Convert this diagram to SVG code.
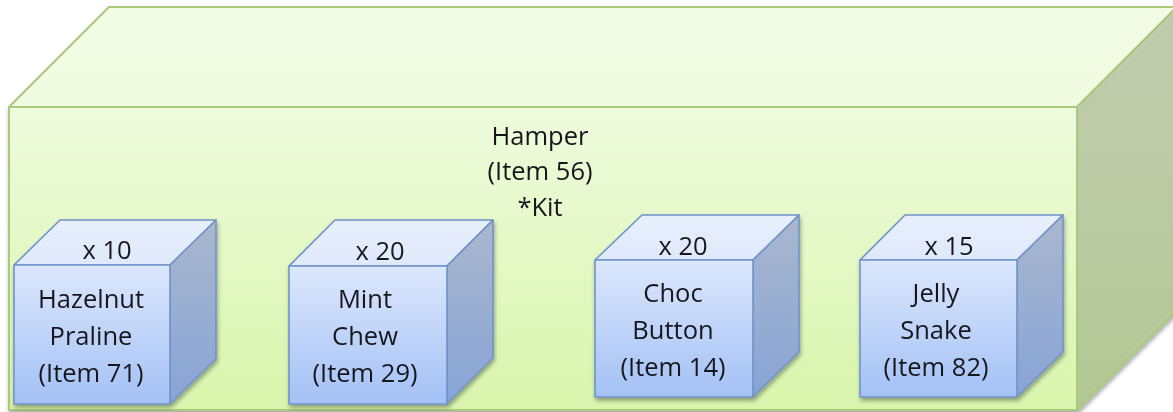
<svg xmlns="http://www.w3.org/2000/svg" width="1173" height="412" viewBox="0 0 1173 412">
<style>
text{font-family:"Open Sans","Liberation Sans",sans-serif;font-size:25.5px;fill:#18181f;text-anchor:middle}
.gs{stroke:#a9c97c;stroke-width:2;stroke-linejoin:round}
.bs{stroke:#6f94c8;stroke-width:1.6;stroke-linejoin:round}
</style>
<defs>
<linearGradient id="gFront" x1="0" y1="0" x2="0" y2="1"><stop offset="0" stop-color="#eefbdd"/><stop offset="1" stop-color="#d9f5ac"/></linearGradient>
<linearGradient id="gTop" x1="0" y1="0" x2="0" y2="1"><stop offset="0" stop-color="#f3fde6"/><stop offset="1" stop-color="#f0fbe0"/></linearGradient>
<linearGradient id="gSide" x1="0" y1="0" x2="0" y2="1"><stop offset="0" stop-color="#c1ccb0"/><stop offset="1" stop-color="#b3c894"/></linearGradient>
<linearGradient id="bFront" x1="0" y1="0" x2="0" y2="1"><stop offset="0" stop-color="#dce7fc"/><stop offset="1" stop-color="#a3c1f5"/></linearGradient>
<linearGradient id="bTop" x1="0" y1="0" x2="0" y2="1"><stop offset="0" stop-color="#e8effc"/><stop offset="1" stop-color="#dfe9fb"/></linearGradient>
<linearGradient id="bSide" x1="0" y1="0" x2="0" y2="1"><stop offset="0" stop-color="#aab7ce"/><stop offset="1" stop-color="#87a4d6"/></linearGradient>
<filter id="sh" x="-10%" y="-10%" width="120%" height="120%"><feGaussianBlur in="SourceAlpha" stdDeviation="2"/><feOffset dx="1" dy="3"/><feComponentTransfer><feFuncA type="linear" slope="0.35"/></feComponentTransfer><feMerge><feMergeNode/><feMergeNode in="SourceGraphic"/></feMerge></filter>
</defs>
<g id="hamper" filter="url(#sh)">
<polygon class="gs" points="9,107 109,7 1177,7 1077,107" fill="url(#gTop)"/>
<polygon class="gs" points="1077,107 1177,7 1177,310 1077,410" fill="url(#gSide)"/>
<rect class="gs" x="9" y="107" width="1068" height="303" fill="url(#gFront)"/>
<text x="540" y="145">Hamper</text>
<text x="540" y="180">(Item 56)</text>
<text x="540" y="216">*Kit</text>
</g>
<g id="item71" filter="url(#sh)">
<polygon class="bs" points="14,265 60,220 216,220 170,265" fill="url(#bTop)"/>
<polygon class="bs" points="170,265 216,220 216,359 170,404" fill="url(#bSide)"/>
<rect class="bs" x="14" y="265" width="156" height="139" fill="url(#bFront)"/>
<text x="107" y="259">x 10</text>
<text x="91" y="308">Hazelnut</text>
<text x="91" y="345">Praline</text>
<text x="91" y="382">(Item 71)</text>
</g>
<g id="item29" filter="url(#sh)">
<polygon class="bs" points="289,266 335,220 493,220 447,266" fill="url(#bTop)"/>
<polygon class="bs" points="447,266 493,220 493,358 447,404" fill="url(#bSide)"/>
<rect class="bs" x="289" y="266" width="158" height="138" fill="url(#bFront)"/>
<text x="380" y="260">x 20</text>
<text x="365" y="308">Mint</text>
<text x="365" y="345">Chew</text>
<text x="365" y="382">(Item 29)</text>
</g>
<g id="item14" filter="url(#sh)">
<polygon class="bs" points="595,260 642,215 799,215 753,260" fill="url(#bTop)"/>
<polygon class="bs" points="753,260 799,215 799,352 753,397" fill="url(#bSide)"/>
<rect class="bs" x="595" y="260" width="158" height="137" fill="url(#bFront)"/>
<text x="683" y="255">x 20</text>
<text x="673" y="302">Choc</text>
<text x="673" y="339">Button</text>
<text x="673" y="376">(Item 14)</text>
</g>
<g id="item82" filter="url(#sh)">
<polygon class="bs" points="860,260 905,215 1063,215 1017,260" fill="url(#bTop)"/>
<polygon class="bs" points="1017,260 1063,215 1063,352 1017,397" fill="url(#bSide)"/>
<rect class="bs" x="860" y="260" width="157" height="137" fill="url(#bFront)"/>
<text x="949" y="255">x 15</text>
<text x="936" y="302">Jelly</text>
<text x="936" y="339">Snake</text>
<text x="936" y="376">(Item 82)</text>
</g>
<g id="connectors"/>
</svg>
